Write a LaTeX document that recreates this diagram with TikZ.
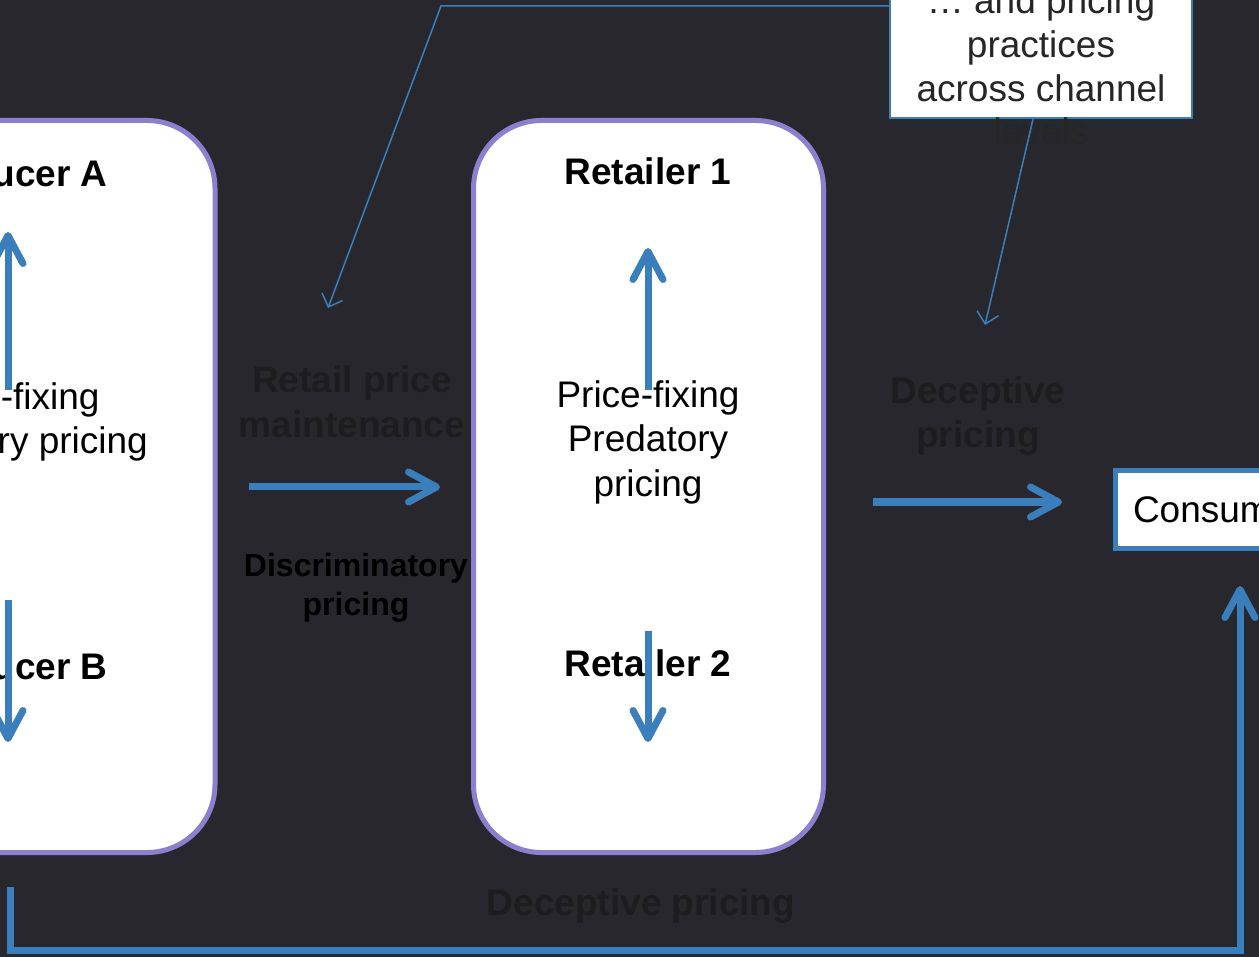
\documentclass[tikz,border=0pt]{standalone}
\usepackage{fontspec}
\setmainfont{Liberation Sans}
\usetikzlibrary{arrows.meta}
\definecolor{bg}{RGB}{40,39,46}
\definecolor{lav}{RGB}{140,127,208}
\definecolor{flowblue}{RGB}{58,127,187}
\definecolor{faint}{RGB}{29,29,32}
\definecolor{boxtext}{RGB}{38,38,38}
\tikzset{
  bigbox/.style={draw=lav, line width=5pt, fill=white, rounded corners=68pt, rectangle, minimum width=350pt, minimum height=732pt, inner sep=0pt},
  regtext/.style={font=\fontsize{37}{44.5}\selectfont, align=center, text=black, inner sep=0pt},
  boldtext/.style={font=\fontsize{37}{44.5}\selectfont\bfseries, align=center, text=black, inner sep=0pt},
  fainttext/.style={boldtext, text=faint},
  flow/.style={draw=flowblue, line width=7pt, -{Straight Barb[round, length=28pt, width=30pt]}},
  thin/.style={draw=flowblue, line width=1.5pt, -{Straight Barb[length=11pt, width=22pt]}},
}
\begin{document}
\begin{tikzpicture}[x=1pt, y=-1pt]
\useasboundingbox (0,0) rectangle (1259,957);
\fill[bg] (0,0) rectangle (1259,957);
\clip (0,0) rectangle (1259,957);

% boxes
\node[bigbox, minimum width=416pt] (prod) at (7,486.5) {};
\node[bigbox] (ret) at (648.5,486.5) {};
\node[draw=flowblue, line width=5pt, fill=white, rectangle, anchor=west, minimum height=77pt, inner xsep=18pt, font=\fontsize{37}{44.5}\selectfont] (cons) at (1112.5,509.5) {Consumer};
\node[draw=flowblue, line width=2pt, fill=white, rectangle, minimum width=302pt, minimum height=180pt, inner sep=0pt] (topbox) at (1041,28) {};

% texts in producer box
\node[boldtext] (pa) at (8,173) {Producer A};
\node[regtext] (pt) at (8,422) {Price-fixing\\Predatory pricing};
\node[boldtext] (pb) at (8,666) {Producer B};

% texts in retailer box
\node[boldtext] (r1) at (648,171) {Retailer 1};
\node[regtext] (rt) at (648,442) {Price-fixing\\Predatory\\pricing};
\node[boldtext] (r2) at (648,663) {Retailer 2};

% labels between boxes
\node[fainttext] (rpm) at (352,402) {Retail price\\maintenance};
\node[boldtext, font=\fontsize{32}{39}\selectfont\bfseries] (disc) at (356,588) {Discriminatory\\pricing};
\node[fainttext] (dp1) at (978,416) {Deceptive\\pricing};
\node[fainttext] (dp2) at (641,906) {Deceptive pricing};

% top note text
\node[regtext, text=boxtext, font=\fontsize{37}{43.7}\selectfont] (note) at (1041,66) {… and pricing\\practices\\across channel\\levels};

% coordinates for arrows
\coordinate (pa1) at (8,390); \coordinate (pa2) at (8,232);
\coordinate (pb1) at (8,600); \coordinate (pb2) at (8,742);
\coordinate (ra1) at (648,390); \coordinate (ra2) at (648,248);
\coordinate (rb1) at (648,631); \coordinate (rb2) at (648,742);
\coordinate (h1a) at (249,487); \coordinate (h1b) at (440,487);
\coordinate (h2a) at (873,502); \coordinate (h2b) at (1062,502);
\coordinate (loopa) at (10,887); \coordinate (loopb) at (1240,586);
\coordinate (n1) at (441,6); \coordinate (n1end) at (328,308);
\coordinate (n2) at (1033,119); \coordinate (n2end) at (985,325);

\draw[flow] (pa1) -- (pa2);
\draw[flow] (pb1) -- (pb2);
\draw[flow] (ra1) -- (ra2);
\draw[flow] (rb1) -- (rb2);
\draw[flow] (h1a) -- (h1b);
\draw[flow] (h2a) -- (h2b);
\draw[flow] (loopa) -- (10,950) -- (1240,950) -- (loopb);

\draw[thin] (topbox.west |- n1) -- (n1) -- (n1end);
\draw[thin] (n2) -- (n2end);
\end{tikzpicture}
\end{document}
